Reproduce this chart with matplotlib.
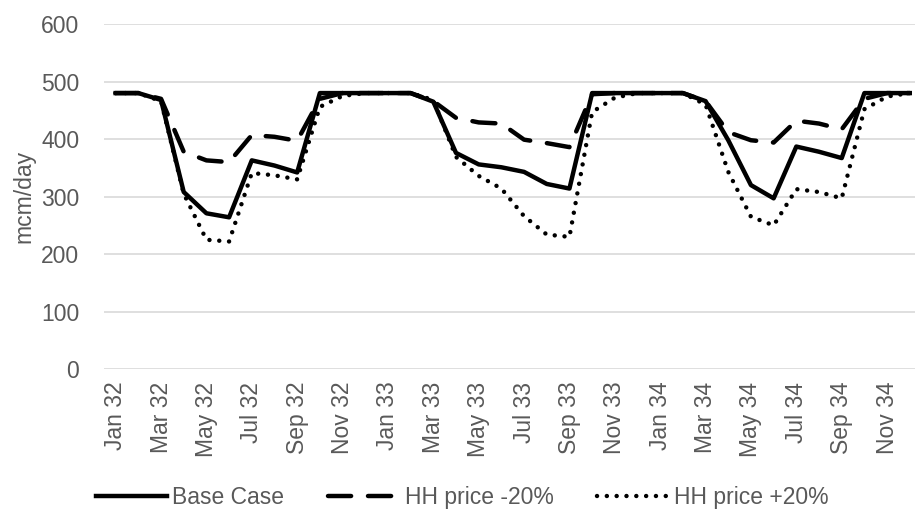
import numpy as np
import matplotlib
matplotlib.use('Agg')
import matplotlib.pyplot as plt

plt.rcParams['font.family'] = ['Liberation Sans', 'DejaVu Sans']

months = ['Jan', 'Feb', 'Mar', 'Apr', 'May', 'Jun',
          'Jul', 'Aug', 'Sep', 'Oct', 'Nov', 'Dec']
years = ['32', '33', '34']
labels = [m + ' ' + y for y in years for m in months]

base_case = [480, 480, 468, 308, 271, 264, 363, 354, 342, 480, 480, 480,
             480, 480, 465, 376, 356, 351, 343, 322, 314, 480, 480, 480,
             480, 480, 466, 398, 320, 297, 387, 378, 367, 480, 480, 480]

hh_minus20 = [480, 480, 470, 378, 363, 360, 407, 404, 397, 470, 480, 480,
              480, 480, 466, 437, 429, 427, 399, 393, 386, 478, 480, 480,
              480, 480, 466, 412, 398, 394, 432, 427, 417, 470, 480, 480]

hh_plus20 = [480, 480, 466, 305, 225, 222, 341, 337, 330, 456, 475, 480,
             480, 480, 468, 369, 336, 314, 266, 234, 230, 447, 472, 480,
             480, 480, 460, 343, 265, 250, 313, 308, 297, 452, 474, 480]

x = np.arange(len(labels))
grey = '#595959'
fs = 16.5
lw = 3.2

fig = plt.figure(figsize=(9.15, 5.12), dpi=100)
ax = fig.add_axes([0.114, 0.279, 0.886, 0.674])

ax.plot(x, base_case, color='black', lw=lw, solid_joinstyle='round',
        label='Base Case')
ax.plot(x, hh_minus20, color='black', lw=lw, linestyle=(0, (5.2, 3.8)),
        dash_capstyle='round', label='HH price -20%')
ax.plot(x, hh_plus20, color='black', lw=lw, linestyle=(0, (0.01, 2.2)),
        dash_capstyle='round', label='HH price +20%')

ax.set_ylim(0, 600)
ax.set_yticks(range(0, 601, 100))
ax.set_xlim(-0.5, 35.23)
ax.set_xticks(x[::2])
ax.set_xticklabels(labels[::2], rotation=90)
ax.tick_params(axis='both', length=0, labelsize=fs, colors=grey)
ax.tick_params(axis='x', pad=9)
ax.tick_params(axis='y', pad=18)

ax.grid(axis='y', color='#D9D9D9', lw=1.2)
ax.set_axisbelow(True)
for s in ax.spines.values():
    s.set_visible(False)

ax.set_ylabel('mcm/day', fontsize=fs, color=grey, labelpad=4)

fig.legend(loc='lower center', bbox_to_anchor=(0.505, -0.035), ncol=3,
           frameon=False, fontsize=fs, handlelength=3.1, handletextpad=0.25,
           columnspacing=1.9, labelcolor=grey)

plt.savefig('out.png', dpi=100)
